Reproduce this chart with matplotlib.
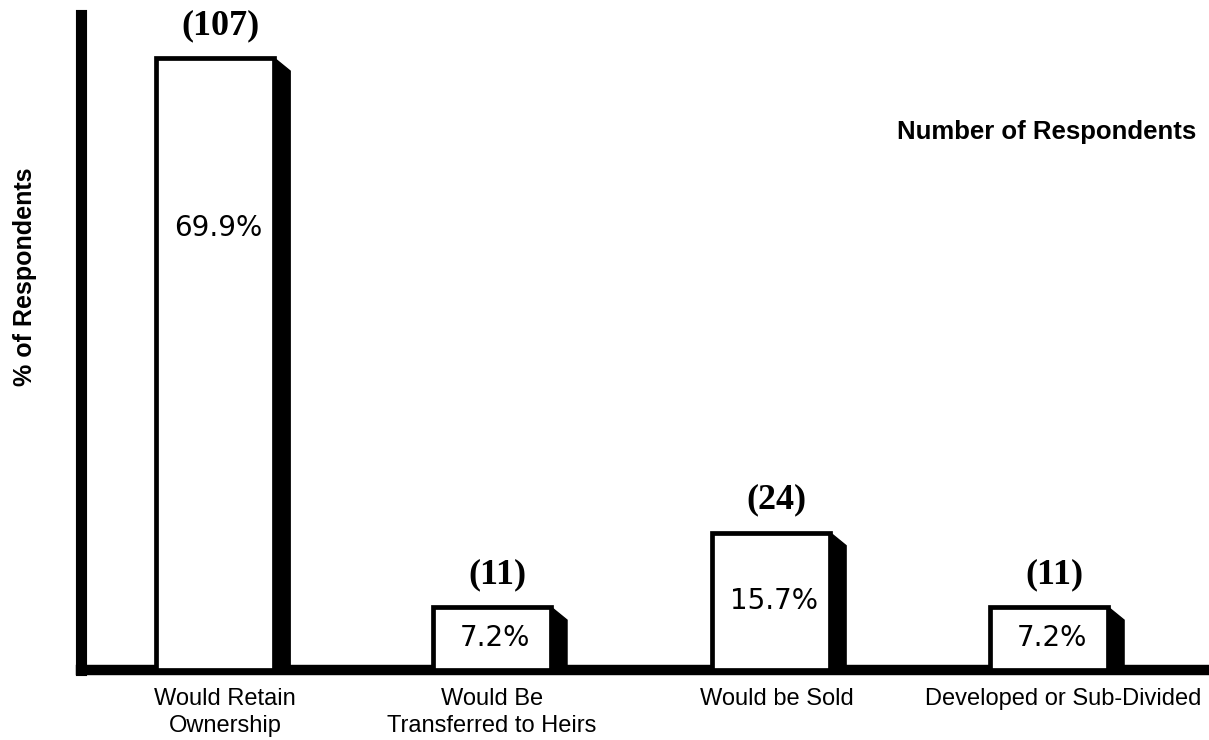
import matplotlib
matplotlib.use("Agg")
import matplotlib.pyplot as plt
from matplotlib.patches import Polygon

categories = ["Would Retain\nOwnership", "Would Be\nTransferred to Heirs", "Would be Sold", "Developed or Sub-Divided"]
percents = [69.9, 7.2, 15.7, 7.2]
counts = [107, 11, 24, 11]
pct_labels = ["69.9%", "7.2%", "15.7%", "7.2%"]

fig = plt.figure(figsize=(12.09, 7.40), dpi=100)
W, H = 1209, 740
base_px, top_px, left_px = 670, 15, 81
ax = fig.add_axes([left_px / W, (H - base_px) / H, (W - left_px) / W, (base_px - top_px) / H])

xs = [0, 0.996, 2.0, 3.0]
label_dx = [0.036, 0.0, 0.02, 0.05]
width = 0.425
ax.set_xlim(-0.482, 3.576)
ax.set_ylim(0, 74.8)

shadow_w = 0.058
for x, p, c, lab in zip(xs, percents, counts, pct_labels):
    ax.bar(x, p, width=width, color="white", edgecolor="black", linewidth=3.4, zorder=3)
    r = x + width / 2
    poly = Polygon([(r, p), (r + shadow_w, p - 1.5), (r + shadow_w, 0), (r, 0)],
                   closed=True, facecolor="black", edgecolor="black", linewidth=1, zorder=2)
    ax.add_patch(poly)
    ax.text(x + 0.02, p + 3.7, f"({c})", ha="center", va="center", fontsize=26,
            fontweight="bold", family="Liberation Serif", zorder=4)
    ypos = p * 0.722 if p > 30 else p / 2
    ax.text(x + 0.01, ypos, lab, ha="center", va="center", fontsize=20,
            family="DejaVu Sans", zorder=4)

for x, dx, cat in zip(xs, label_dx, categories):
    ax.annotate(cat, xy=(x + dx, 0), xycoords=("data", "axes fraction"),
                xytext=(0, -13), textcoords="offset points", ha="center", va="top",
                fontsize=17, family="Liberation Sans", linespacing=1.3, annotation_clip=False)

for s in ["top", "right"]:
    ax.spines[s].set_visible(False)
ax.spines["left"].set_linewidth(8)
ax.spines["bottom"].set_linewidth(7.5)
ax.spines["left"].set_capstyle("projecting")
ax.spines["bottom"].set_capstyle("projecting")
ax.set_yticks([])
ax.set_xticks([])

fig.text(25 / W, 1 - 277 / H, "% of Respondents", rotation=90, ha="center", va="center",
         fontsize=18, family="Liberation Sans", fontweight="bold")
fig.text(1047 / W, 1 - 132 / H, "Number of Respondents", ha="center", va="center",
         fontsize=18.5, family="Liberation Sans", fontweight="bold")

fig.savefig("out.png", dpi=100)
